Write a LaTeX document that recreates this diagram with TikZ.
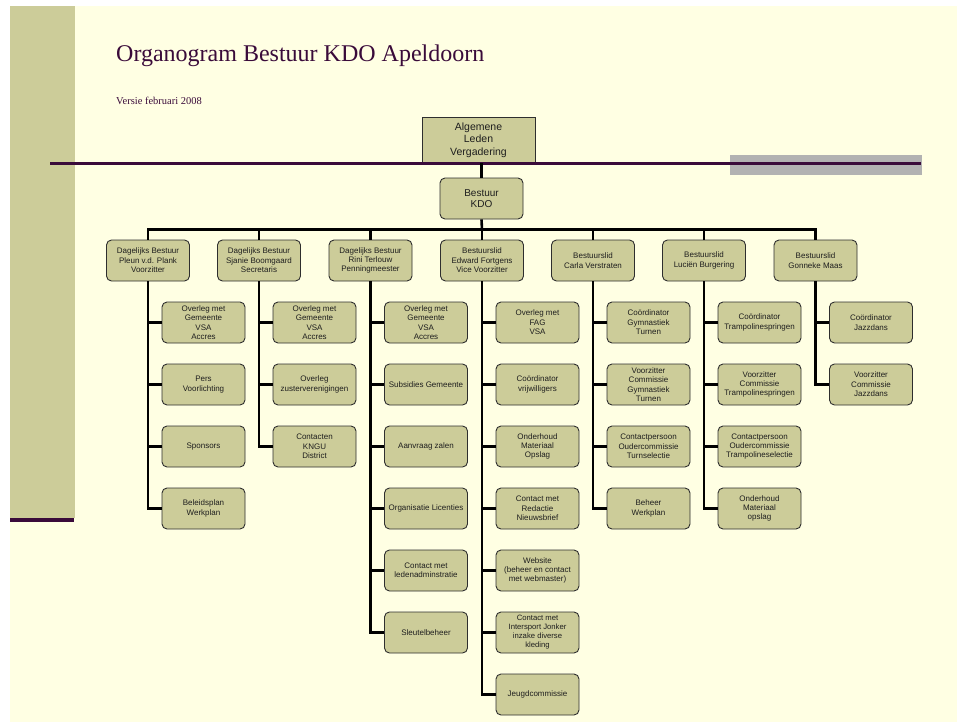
\documentclass[tikz,border=0pt]{standalone}
\usepackage{fontspec}
\setmainfont{Liberation Serif}
\newfontfamily\arialf{Liberation Sans}
\definecolor{slidebg}{HTML}{FFFFE3}
\definecolor{olive}{HTML}{CCCC99}
\definecolor{plum}{HTML}{3A0B3A}
\definecolor{graybar}{HTML}{B2B2B2}
\definecolor{boxline}{HTML}{2E2E2E}
\definecolor{boxtext}{HTML}{1E1E1E}
\begin{document}
\begin{tikzpicture}[x=1pt,y=-1pt,
  orgbox/.style={draw=boxline, line width=0.9pt, fill=olive, rounded corners=5pt,
    minimum width=83pt, minimum height=41pt, inner sep=0pt, align=center,
    text=boxtext, font=\arialf\fontsize{8}{9.4}\selectfont},
  sqbox/.style={orgbox, rounded corners=0pt, minimum width=113pt, minimum height=46pt,
    font=\arialf\fontsize{10.5}{12.5}\selectfont},
  conn/.style={draw=black, line width=2.6pt},
  plumline/.style={draw=plum, line width=2.6pt}]
\useasboundingbox (0,0) rectangle (957,722);
\fill[white] (0,0) rectangle (957,722);
\fill[slidebg] (10,6) rectangle (957,722);
\fill[olive] (10,6) rectangle (75,518);
\draw[plumline, line width=4pt] (10,519.5) -- (74,519.5);
\node[anchor=base west, text=plum, inner sep=0pt, font=\fontsize{24}{28}\selectfont] (title) at (116,62) {Organogram Bestuur KDO Apeldoorn};
\node[anchor=base west, text=plum, font=\fontsize{10.5}{12}\selectfont, inner sep=0pt] (versie) at (116,105) {Versie februari 2008};
% top boxes
\node[sqbox] (alv) at (478.5,140) {Algemene\\Leden\\Vergadering};
\fill[graybar] (730,155) rectangle (922,175);
\draw[plumline] (50,163.5) -- (921,163.5);
\node[orgbox, font=\arialf\fontsize{10}{11.7}\selectfont] (kdo) at (481.5,198.5) {Bestuur\\KDO};
\draw[conn] (kdo.north) -- (kdo.north |- alv.south);
\coordinate (bus) at (482,229.5);
\draw[conn] (kdo.south) -- (bus);
% level 1
\node[orgbox] (b1) at (148,260.5) {Dagelijks Bestuur\\Pleun v.d. Plank\\Voorzitter};
\node[orgbox] (b2) at (259,260.5) {Dagelijks Bestuur\\Sjanie Boomgaard\\Secretaris};
\node[orgbox] (b3) at (370.5,260.5) {Dagelijks Bestuur\\Rini Terlouw\\Penningmeester};
\node[orgbox] (b4) at (482,260.5) {Bestuurslid\\Edward Fortgens\\Vice Voorzitter};
\node[orgbox] (b5) at (593,260.5) {Bestuurslid\\Carla Verstraten};
\node[orgbox] (b6) at (704,260.5) {Bestuurslid\\Luciën Burgering};
\node[orgbox] (b7) at (815.5,260.5) {Bestuurslid\\Gonneke Maas};
\foreach \b in {b1,b2,b3,b4,b5,b6,b7} \draw[conn] (\b.north) |- (bus);
% column 1
\node[orgbox] (c11) at (203.5,322.5) {Overleg met\\Gemeente\\VSA\\Accres};
\node[orgbox] (c12) at (203.5,384.5) {Pers\\Voorlichting};
\node[orgbox] (c13) at (203.5,446.5) {Sponsors};
\node[orgbox] (c14) at (203.5,508.5) {Beleidsplan\\Werkplan};
% column 2
\node[orgbox] (c21) at (314.5,322.5) {Overleg met\\Gemeente\\VSA\\Accres};
\node[orgbox] (c22) at (314.5,384.5) {Overleg\\zusterverenigingen};
\node[orgbox] (c23) at (314.5,446.5) {Contacten\\KNGU\\District};
% column 3
\node[orgbox] (c31) at (426,322.5) {Overleg met\\Gemeente\\VSA\\Accres};
\node[orgbox] (c32) at (426,384.5) {Subsidies Gemeente};
\node[orgbox] (c33) at (426,446.5) {Aanvraag zalen};
\node[orgbox] (c34) at (426,508.5) {Organisatie Licenties};
\node[orgbox] (c35) at (426,570.5) {Contact met\\ledenadminstratie};
\node[orgbox] (c36) at (426,632.5) {Sleutelbeheer};
% column 4
\node[orgbox] (c41) at (537.5,322.5) {Overleg met\\FAG\\VSA};
\node[orgbox] (c42) at (537.5,384.5) {Coördinator\\vrijwilligers};
\node[orgbox] (c43) at (537.5,446.5) {Onderhoud\\Materiaal\\Opslag};
\node[orgbox] (c44) at (537.5,508.5) {Contact met\\Redactie\\Nieuwsbrief};
\node[orgbox] (c45) at (537.5,570.5) {Website\\(beheer en contact\\met webmaster)};
\node[orgbox, font=\arialf\fontsize{7.7}{9}\selectfont] (c46) at (537.5,632.5) {Contact met\\Intersport Jonker\\inzake diverse\\kleding};
\node[orgbox] (c47) at (537.5,694.5) {Jeugdcommissie};
% column 5
\node[orgbox] (c51) at (648.5,322.5) {Coördinator\\Gymnastiek\\Turnen};
\node[orgbox] (c52) at (648.5,384.5) {Voorzitter\\Commissie\\Gymnastiek\\Turnen};
\node[orgbox] (c53) at (648.5,446.5) {Contactpersoon\\Oudercommissie\\Turnselectie};
\node[orgbox] (c54) at (648.5,508.5) {Beheer\\Werkplan};
% column 6
\node[orgbox] (c61) at (759.5,322.5) {Coördinator\\Trampolinespringen};
\node[orgbox] (c62) at (759.5,384.5) {Voorzitter\\Commissie\\Trampolinespringen};
\node[orgbox] (c63) at (759.5,446.5) {Contactpersoon\\Oudercommissie\\Trampolineselectie};
\node[orgbox] (c64) at (759.5,508.5) {Onderhoud\\Materiaal\\opslag};
% column 7
\node[orgbox] (c71) at (871,322.5) {Coördinator\\Jazzdans};
\node[orgbox] (c72) at (871,384.5) {Voorzitter\\Commissie\\Jazzdans};
% connectors
\foreach \c in {c11,c12,c13,c14} \draw[conn] (b1.south) |- (\c.west);
\foreach \c in {c21,c22,c23} \draw[conn] (b2.south) |- (\c.west);
\foreach \c in {c31,c32,c33,c34,c35,c36} \draw[conn] (b3.south) |- (\c.west);
\foreach \c in {c41,c42,c43,c44,c45,c46,c47} \draw[conn] (b4.south) |- (\c.west);
\foreach \c in {c51,c52,c53,c54} \draw[conn] (b5.south) |- (\c.west);
\foreach \c in {c61,c62,c63,c64} \draw[conn] (b6.south) |- (\c.west);
\foreach \c in {c71,c72} \draw[conn] (b7.south) |- (\c.west);
\end{tikzpicture}
\end{document}
